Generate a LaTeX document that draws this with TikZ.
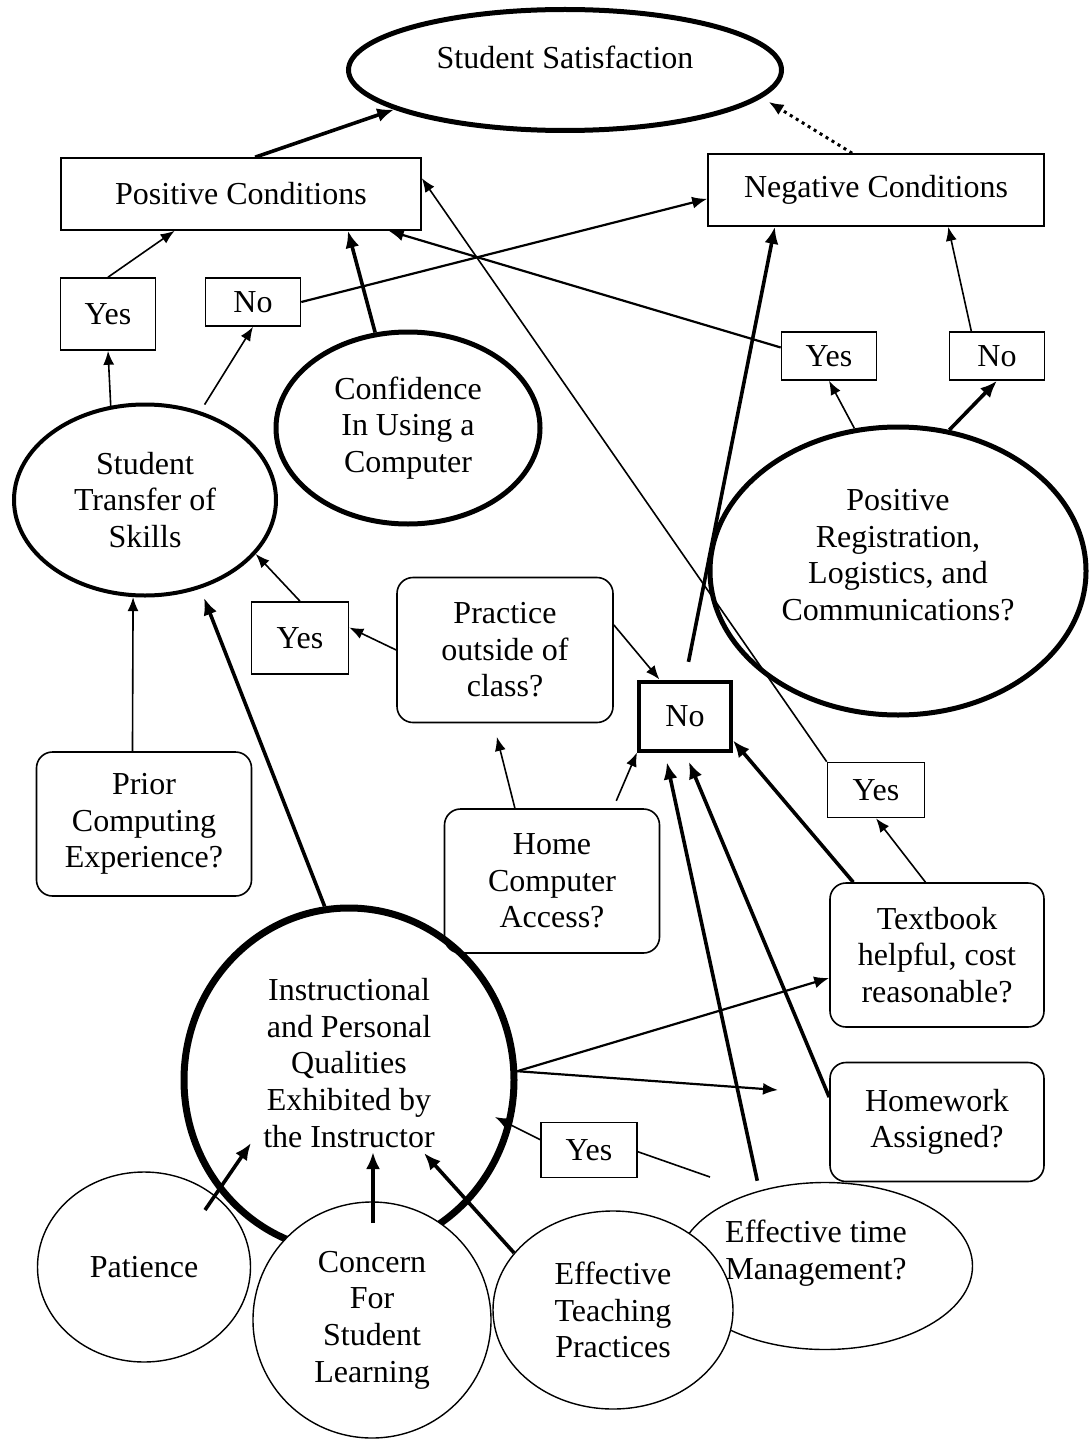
\documentclass[tikz,border=0pt]{standalone}
\usepackage{fontspec}
\setmainfont{Liberation Serif}
\usetikzlibrary{shapes.geometric,arrows.meta}

\tikzset{
  every node/.append style={font=\fontsize{16pt}{18.3pt}\selectfont, align=center, inner sep=0pt},
  oval/.style={draw, ellipse, line width=0.7pt},
  cond/.style={draw, line width=0.8pt, minimum height=36pt},
  yn/.style={draw, line width=0.8pt, minimum width=47.5pt, minimum height=24pt},
  quest/.style={draw, line width=0.8pt, rounded corners=8pt, minimum width=107.5pt, minimum height=72pt},
  thin line/.style={line width=0.8pt},
  thin arrow/.style={-{Latex[length=7pt,width=5.5pt]}, line width=0.8pt},
  mid arrow/.style={-{Latex[length=7.5pt,width=6pt]}, line width=1.1pt},
  bold arrow/.style={-{Latex[length=8.5pt,width=7pt]}, line width=1.8pt}
}

\begin{document}
\begin{tikzpicture}[x=0.5pt, y=-0.5pt]
  \useasboundingbox (0,0) rectangle (1089,1439);
  % top level
  \node[oval, line width=2.5pt, minimum width=216.5pt, minimum height=60.5pt] (sat) at (565,70) {};
  \node (sattext) at (565,57) {Student Satisfaction};
  \node[cond, minimum width=180pt] (pos) at (241,194) {Positive Conditions};
  \node[cond, minimum width=168pt] (neg) at (876,190) {Negative Conditions};
  % yes / no boxes
  \node[yn, minimum height=36pt] (yesA) at (108,314) {Yes};
  \node[yn] (noA) at (253,302) {No};
  \node[yn] (yesB) at (829,356) {Yes};
  \node[yn] (noB) at (997,356) {No};
  \node[yn, minimum width=48.5pt, minimum height=36pt] (yesC) at (300,638) {Yes};
  \node[yn, minimum width=48.5pt, minimum height=27.5pt] (yesD) at (876,790) {Yes};
  \node[yn, minimum width=48pt, minimum height=27.5pt] (yesE) at (589,1150) {Yes};
  \node[yn, line width=2pt, minimum width=46pt, minimum height=34.5pt] (noC) at (685,716) {No};
  % ellipses
  \node[oval, line width=2pt, minimum width=131pt, minimum height=95.5pt] (trans) at (145,500) {Student\\Transfer of\\Skills};
  \node[oval, line width=2.5pt, minimum width=132pt, minimum height=96pt] (conf) at (408,428) {Confidence\\In Using a\\Computer};
  \node[oval, line width=2.5pt, minimum width=188pt, minimum height=144pt] (reg) at (898,571) {};
  \node (regtext) at (898,555) {Positive\\Registration,\\Logistics, and\\Communications?};
  % questions
  \node[quest, minimum width=108pt, minimum height=72.5pt] (prac) at (505,650) {Practice\\outside of\\class?};
  \node[quest] (prior) at (144,824) {Prior\\Computing\\Experience?};
  \node[quest] (home) at (552,881) {Home\\Computer\\Access?};
  \node[quest, minimum width=107pt] (book) at (937,955) {Textbook\\helpful, cost\\reasonable?};
  \node[quest, minimum width=107pt, minimum height=59.5pt] (hw) at (937,1122) {Homework\\Assigned?};
  % bottom cluster
  \node[oval, fill=white, minimum width=106.5pt, minimum height=95pt] (pat) at (144,1267) {Patience};
  \node[oval, line width=3.5pt, minimum width=165pt, minimum height=172pt] (instr) at (349,1080) {};
  \node (instrtext) at (349,1063) {Instructional\\and Personal\\Qualities\\Exhibited by\\the Instructor};
  \node[oval, fill=white, minimum width=119pt, minimum height=118pt] (conc) at (372,1320) {Concern\\For\\Student\\Learning};
  \node[oval, fill=white, minimum width=147.5pt, minimum height=83.5pt] (timeq) at (825,1266) {};
  \node[oval, fill=white, minimum width=120pt, minimum height=99pt] (teach) at (613,1310) {Effective\\Teaching\\Practices};
  \node (timetext) at (816,1253) {Effective time\\Management?};

  % free ends
  \coordinate (patfoot) at (205,1210);
  \coordinate (pathead) at (251,1143);
  \coordinate (concfoot) at (373,1223);
  \coordinate (conchead) at (373,1152);
  \coordinate (teachhead) at (424,1153);
  \coordinate (yesfoot) at (710,1177);
  \coordinate (yeshead) at (495,1117);
  \coordinate (hwhead) at (778,1090);

  % into satisfaction and the conditions
  \draw[bold arrow] (pos.69) -- (sat.193);
  \draw[-{Latex[length=7.5pt,width=6pt]}, dotted, line width=1.5pt, shorten >=4pt] (neg.123) -- (sat.352);
  \draw[thin arrow] (yesA.north) -- (pos.209);
  \draw[mid arrow] (noA.east) -- (neg.183);
  \draw[bold arrow] (conf.109) -- (pos.341);
  \draw[thin arrow] (yesD.north west) -- (pos.5);
  \draw[mid arrow] (yesB.170) -- (pos.346);
  \draw[thin arrow] (noB.136) -- (neg.333);
  \draw[bold arrow, shorten <=9pt] (noC.north) -- (neg.200);
  % branches
  \draw[thin arrow] (trans.110) -- (yesA.south);
  \draw[thin arrow, shorten <=4pt] (trans.58) -- (noA.south);
  \draw[thin arrow] (reg.107) -- (yesB.south);
  \draw[bold arrow] (reg.70) -- (noB.south);
  \draw[thin arrow] (prac.west) -- (yesC.12);
  \draw[thin arrow] (yesC.north) -- (trans.334);
  \draw[thin arrow] (prac.13) -- (noC.125);
  \draw[thin arrow] (prior.99) -- (trans.263);
  \draw[bold arrow, shorten >=5pt] (instr.98) -- (trans.302);
  \draw[thin arrow, shorten >=7pt] (home.117) -- (prac.261);
  \draw[thin arrow, shorten <=4pt] (home.50) -- (noC.south west);
  \draw[thin arrow] (book.99) -- (yesD.south);
  \draw[bold arrow] (book.139) -- (noC.333);
  \draw[bold arrow, shorten >=5pt] (hw.167) -- (noC.south);
  \draw[bold arrow, shorten <=5pt, shorten >=5pt] (timeq.131) -- (noC.241);
  % into the instructor
  \draw[bold arrow] (patfoot) -- (pathead);
  \draw[bold arrow] (concfoot) -- (conchead);
  \draw[bold arrow] (teach.150) -- (teachhead);
  \draw[thin line] (yesfoot) -- (yesE.358);
  \draw[thin arrow] (yesE.168) -- (yeshead);
  \draw[mid arrow] (instr.3) -- (book.192);
  \draw[mid arrow] (instr.3) -- (hwhead);
\end{tikzpicture}
\end{document}
